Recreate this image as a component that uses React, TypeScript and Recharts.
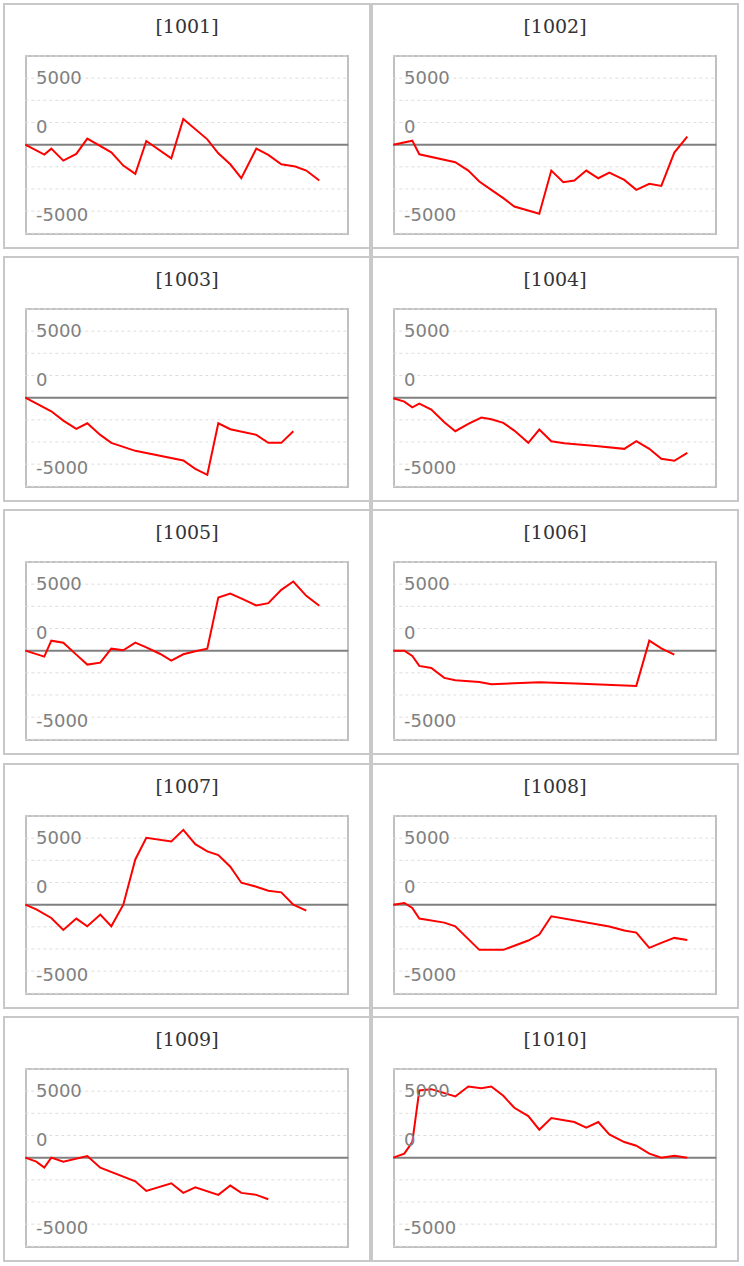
import { LineChart, Line, XAxis, YAxis, CartesianGrid, ReferenceLine } from 'recharts'

// panel ids
const IDS = ['1001', '1002', '1003', '1004', '1005', '1006', '1007', '1008', '1009', '1010']

// x positions (time offset along the shared axis) and values per panel
const T_1001 = [0, 19, 26, 38, 51, 62, 86, 98, 110, 121, 146, 158, 182, 193, 205, 216, 231, 243, 256, 270, 281, 294]
const V_1001 = [0, -750, -300, -1200, -700, 450, -575, -1575, -2200, 275, -1025, 1925, 400, -650, -1475, -2525, -300, -775, -1475, -1650, -1950, -2700]

const T_1002 = [0, 19, 26, 62, 75, 86, 98, 110, 121, 146, 158, 170, 181, 193, 205, 216, 231, 243, 256, 268, 281, 294]
const V_1002 = [0, 300, -725, -1325, -1950, -2775, -3400, -4025, -4650, -5200, -1950, -2825, -2700, -1950, -2525, -2100, -2650, -3400, -2950, -3100, -600, 600]

const T_1003 = [0, 26, 38, 51, 62, 75, 86, 110, 158, 170, 182, 193, 205, 231, 243, 256, 268]
const V_1003 = [0, -1025, -1725, -2350, -1925, -2800, -3400, -4000, -4725, -5350, -5800, -1925, -2375, -2800, -3400, -3400, -2525]

const T_1004 = [0, 11, 19, 26, 38, 51, 62, 75, 88, 98, 110, 121, 135, 146, 158, 171, 205, 231, 243, 256, 268, 281, 294]
const V_1004 = [-50, -300, -725, -450, -900, -1850, -2525, -1975, -1500, -1625, -1900, -2475, -3400, -2400, -3275, -3425, -3650, -3850, -3275, -3850, -4600, -4750, -4150]

const T_1005 = [0, 19, 26, 38, 51, 62, 75, 86, 98, 110, 121, 135, 146, 158, 170, 182, 193, 205, 218, 231, 243, 256, 268, 281, 294]
const V_1005 = [0, -450, 750, 600, -300, -1050, -900, 150, 25, 600, 250, -250, -750, -275, -50, 150, 4000, 4300, 3850, 3400, 3575, 4575, 5200, 4125, 3375]

const T_1006 = [0, 11, 19, 26, 38, 51, 62, 86, 98, 146, 182, 243, 256, 268, 281]
const V_1006 = [0, 0, -400, -1150, -1300, -2050, -2225, -2350, -2525, -2375, -2475, -2650, 750, 175, -300]

const T_1007 = [0, 11, 26, 38, 51, 62, 75, 86, 98, 110, 121, 146, 158, 170, 182, 193, 205, 216, 231, 243, 256, 268, 281]
const V_1007 = [0, -350, -1000, -1900, -1050, -1625, -750, -1625, 0, 3400, 5025, 4750, 5625, 4550, 4000, 3725, 2850, 1650, 1350, 1050, 925, 0, -450]

const T_1008 = [0, 11, 19, 26, 51, 62, 86, 110, 135, 146, 158, 216, 231, 243, 256, 268, 281, 294]
const V_1008 = [0, 125, -250, -1050, -1350, -1625, -3400, -3400, -2700, -2250, -875, -1650, -1950, -2100, -3250, -2875, -2500, -2650]

const T_1009 = [0, 11, 19, 26, 38, 62, 75, 110, 121, 146, 158, 170, 193, 205, 216, 231, 243]
const V_1009 = [0, -300, -750, 0, -300, 125, -750, -1775, -2500, -1925, -2650, -2225, -2800, -2100, -2650, -2800, -3125]

const T_1010 = [0, 11, 19, 26, 38, 62, 75, 88, 98, 110, 121, 135, 146, 158, 181, 193, 205, 216, 231, 243, 256, 268, 281, 294]
const V_1010 = [0, 300, 1175, 5050, 5150, 4600, 5350, 5225, 5350, 4650, 3750, 3125, 2100, 2975, 2675, 2250, 2675, 1750, 1175, 900, 300, 0, 150, 0]

const SERIES: [number[], number[]][] = [
    [T_1001, V_1001],
    [T_1002, V_1002],
    [T_1003, V_1003],
    [T_1004, V_1004],
    [T_1005, V_1005],
    [T_1006, V_1006],
    [T_1007, V_1007],
    [T_1008, V_1008],
    [T_1009, V_1009],
    [T_1010, V_1010],
]

// y axis labels and gridline step
const Y_LABELS = [5000, 0, -5000]
const GRID_STEP = 5000 / 3
const Y_MAX = GRID_STEP * 4
const X_MAX = 323

const GRID_TICKS = [-3, -2, -1, 0, 1, 2, 3].map((k) => k * GRID_STEP)

const PANEL_W = 368
const PANEL_H = 246
const ROW_TOPS = [3, 256, 509, 763, 1016]
const COL_LEFTS = [3, 371]
const CHART_W = PANEL_W - 4
const CHART_H = PANEL_H - 4
const PLOT_TOP = 51
const PLOT_BOTTOM = 228.3
const PLOT_LEFT = 20.3
const PLOT_RIGHT = 343.3
const AXIS_W = 10
const STEP_PX = (PLOT_BOTTOM - PLOT_TOP) / 8

const renderYTick = (props: any) => {
    const value = props.payload.value
    const label = Y_LABELS.find((l) => Math.abs(l - value) < 1)
    if (label === undefined) return <g />
    let dy = -1
    if (label === 0) dy = -STEP_PX + 4
    if (label === -5000) dy = 3
    return (
        <text
            x={31}
            y={props.y + dy}
            textAnchor="start"
            dominantBaseline="central"
            fill="#808080"
            fontSize={18}
            fontFamily="'DejaVu Sans', Verdana, sans-serif"
        >
            {label}
        </text>
    )
}

const Panel = ({ id, t, v, left, top }: { id: string; t: number[]; v: number[]; left: number; top: number }) => {
    const data = t.map((x, i) => ({ t: x, v: v[i] }))
    return (
        <div
            style={{
                position: 'absolute',
                left,
                top,
                width: PANEL_W,
                height: PANEL_H,
                boxSizing: 'border-box',
                border: '2px solid #c8c8c8',
                background: '#fff',
            }}
        >
            <div
                style={{
                    position: 'absolute',
                    left: 0,
                    top: 9,
                    width: CHART_W,
                    textAlign: 'center',
                    fontFamily: "'DejaVu Serif', serif",
                    fontSize: 19,
                    lineHeight: '24px',
                    color: '#333',
                }}
            >
                [{id}]
            </div>
            <div
                style={{
                    position: 'absolute',
                    left: 20,
                    top: 50,
                    width: 324,
                    height: 180,
                    boxSizing: 'border-box',
                    border: '2px solid #c0c0c0',
                }}
            />
            <div style={{ position: 'absolute', left: 0, top: 0 }}>
                <LineChart
                    width={CHART_W}
                    height={CHART_H}
                    data={data}
                    margin={{
                        top: PLOT_TOP,
                        left: PLOT_LEFT - AXIS_W,
                        right: CHART_W - PLOT_RIGHT,
                        bottom: CHART_H - PLOT_BOTTOM,
                    }}
                >
                    <CartesianGrid vertical={false} stroke="#dddddd" strokeDasharray="3 3" />
                    <XAxis type="number" dataKey="t" domain={[0, X_MAX]} hide />
                    <YAxis
                        type="number"
                        domain={[-Y_MAX, Y_MAX]}
                        ticks={GRID_TICKS}
                        width={AXIS_W}
                        axisLine={false}
                        tickLine={false}
                        tick={renderYTick}
                        interval={0}
                        allowDataOverflow
                    />
                    <ReferenceLine y={0} stroke="#808080" strokeWidth={2} />
                    <Line
                        type="linear"
                        dataKey="v"
                        stroke="#ff0000"
                        strokeWidth={2}
                        dot={false}
                        isAnimationActive={false}
                    />
                </LineChart>
            </div>
        </div>
    )
}

export default function App() {
    return (
        <div style={{ position: 'absolute', left: 0, top: 0, width: 744, height: 1266, background: '#fff' }}>
            <div style={{ position: 'absolute', left: 369, top: 3, width: 4, height: 1259, background: '#c8c8c8' }} />
            {IDS.map((id, i) => (
                <Panel
                    key={id}
                    id={id}
                    t={SERIES[i][0]}
                    v={SERIES[i][1]}
                    left={COL_LEFTS[i % 2]}
                    top={ROW_TOPS[Math.floor(i / 2)]}
                />
            ))}
        </div>
    )
}
